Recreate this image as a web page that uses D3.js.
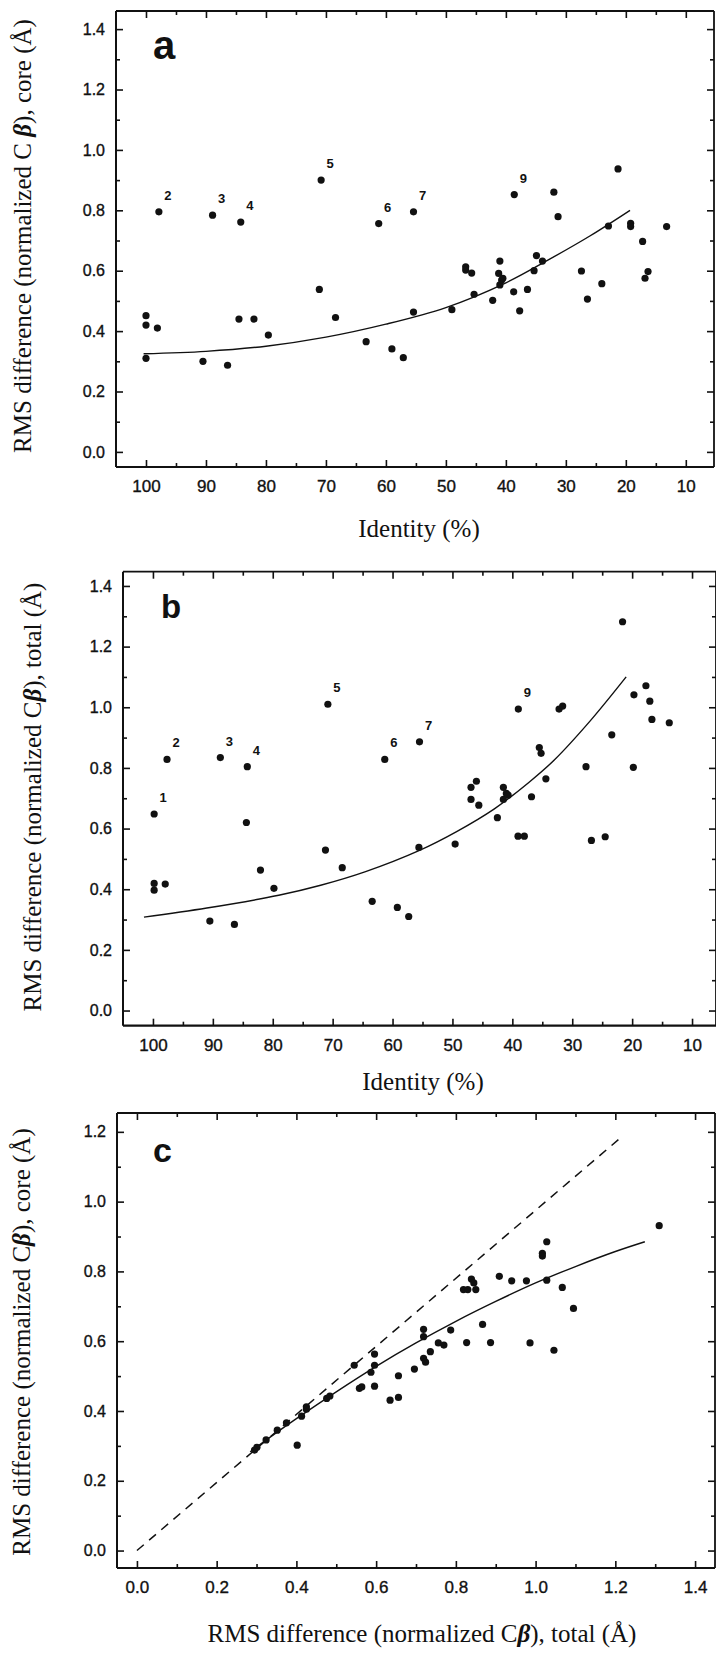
<!DOCTYPE html>
<html><head><meta charset="utf-8">
<script src="https://cdn.jsdelivr.net/npm/d3@7"></script>
<style>
body{margin:0;background:#fff;}
svg{display:block;background:#fff;}
</style></head><body>
<script>
// ---------- Panel a : identity vs core RMS ----------
const identityA = [100,100,100,98.1,97.85,90.5,88.9,86.4,84.5,84.2,82.0,79.6,71.1,70.8,68.4,63.3,61.2,59.0,57.1,55.4,55.4,49.0,46.7,46.7,45.7,45.3,42.2,41.0,41.2,41.0,40.7,40.5,38.7,38.6,37.7,36.4,35.3,34.9,33.9,32.0,31.3,27.4,26.4,24.0,22.9,21.3,19.2,19.2,17.2,16.8,16.3,13.2];
const coreA = [0.451,0.42,0.31,0.41,0.795,0.30,0.784,0.287,0.44,0.761,0.44,0.387,0.538,0.90,0.445,0.365,0.756,0.341,0.312,0.463,0.795,0.471,0.613,0.602,0.592,0.522,0.502,0.632,0.591,0.553,0.569,0.575,0.53,0.852,0.467,0.538,0.60,0.65,0.632,0.86,0.779,0.599,0.506,0.557,0.748,0.937,0.757,0.746,0.697,0.575,0.597,0.746];
const labelTextA = ["2","3","4","5","6","7","9"];
const labelIdA = [97.85,88.9,84.2,70.8,61.2,55.4,38.6];
const labelValA = [0.795,0.784,0.761,0.90,0.756,0.795,0.852];
const fitIdA = [100.4,90,80,70,60,50,40,33,26,19.3];
const fitValA = [0.325,0.333,0.35,0.38,0.423,0.478,0.56,0.635,0.715,0.80];

// ---------- Panel b : identity vs total RMS ----------
const identityB = [97.65,88.75,84.25,70.8,61.3,55.5,39.0,35.5,35.2,32.2,31.6,23.4,21.6,19.7,17.7,17.05,16.7,13.8,27.7,19.8,99.8,99.8,99.8,97.95,90.5,86.4,84.4,82.05,79.8,71.2,68.4,63.4,59.2,57.3,55.6,49.55,46.9,46.0,46.9,45.6,42.5,41.5,41.5,41.0,40.7,39.05,38.0,36.8,34.4,26.8,24.5];
const totalB = [0.828,0.834,0.804,1.01,0.828,0.886,0.994,0.867,0.848,0.994,1.004,0.909,1.282,1.041,1.071,1.02,0.96,0.949,0.804,0.802,0.648,0.419,0.397,0.417,0.295,0.284,0.62,0.463,0.403,0.529,0.471,0.36,0.34,0.31,0.538,0.549,0.736,0.756,0.696,0.677,0.636,0.736,0.696,0.716,0.71,0.575,0.575,0.705,0.764,0.561,0.573];
const labelTextB = ["1","2","3","4","5","6","7","9"];
const labelIdB = [99.8,97.65,88.75,84.25,70.8,61.3,55.5,39.0];
const labelValB = [0.648,0.828,0.834,0.804,1.01,0.828,0.886,0.994];
const fitIdB = [101.5,91,79,72,64.5,55.5,49.3,43,37.2,33,27,21];
const fitValB = [0.308,0.338,0.38,0.413,0.458,0.528,0.59,0.665,0.753,0.826,0.955,1.10];

// ---------- Panel c : total vs core RMS ----------
const totalC = [1.310,1.028,1.017,1.017,1.028,1.067,1.095,0.977,0.94,0.909,0.819,0.83,0.839,0.845,0.85,0.867,0.887,0.986,1.046,0.827,0.787,0.77,0.756,0.736,0.719,0.719,0.719,0.596,0.545,0.596,0.587,0.558,0.564,0.596,0.656,0.635,0.656,0.696,0.724,0.476,0.484,0.425,0.425,0.413,0.402,0.375,0.352,0.324,0.301,0.295];
const coreC = [0.931,0.885,0.852,0.844,0.775,0.754,0.694,0.773,0.773,0.786,0.748,0.748,0.778,0.767,0.748,0.648,0.596,0.595,0.574,0.596,0.632,0.589,0.595,0.57,0.634,0.613,0.551,0.563,0.531,0.531,0.511,0.465,0.469,0.471,0.501,0.431,0.439,0.52,0.54,0.436,0.443,0.412,0.405,0.385,0.302,0.366,0.345,0.317,0.296,0.288];
const fitTotalC = [0.284,0.35,0.4,0.5,0.6,0.7,0.8,0.9,1.0,1.1,1.2,1.274];
const fitCoreC = [0.283,0.338,0.378,0.455,0.528,0.595,0.657,0.714,0.767,0.814,0.857,0.885];
const diagTotalC = [0,1.21];
const diagCoreC = [0,1.18];

// ---------- ticks ----------
const identityTicks = [100,90,80,70,60,50,40,30,20,10];
const identityMinor = [95,85,75,65,55,45,35,25,15];
const rmsTicks14 = [0,0.2,0.4,0.6,0.8,1.0,1.2,1.4];
const rmsMinor14 = [0.1,0.3,0.5,0.7,0.9,1.1,1.3];
const rmsTicks12 = [0,0.2,0.4,0.6,0.8,1.0,1.2];
const rmsMinor12 = [0.1,0.3,0.5,0.7,0.9,1.1];
const totalTicksC = [0,0.2,0.4,0.6,0.8,1.0,1.2,1.4];
const totalMinorC = [0.1,0.3,0.5,0.7,0.9,1.1,1.3];

const W = 716, H = 1655;
const INK = "#111";
const SANS = "'Liberation Sans', Arial, Helvetica, sans-serif";
const SERIF = "'Liberation Serif', 'Times New Roman', serif";

const svg = d3.select("body").append("svg").attr("width", W).attr("height", H);
svg.append("rect").attr("width", W).attr("height", H).attr("fill", "#fff");

const f1 = d3.format(".1f");

function noDomain(s){ s.select(".domain").remove(); }
function styleAxis(s, size){
  s.attr("font-family", SANS).attr("font-size", size);
  s.selectAll(".tick line").attr("stroke", INK).attr("stroke-width", 1.6);
  s.selectAll(".tick text").attr("fill", INK).attr("stroke", INK).attr("stroke-width", 0.35);
}

function panel(cfg){
  const g = svg.append("g");
  const x = d3.scaleLinear().domain(cfg.xDomain).range(cfg.xRange);
  const y = d3.scaleLinear().domain(cfg.yDomain).range(cfg.yRange);
  const [x0, x1] = cfg.xRange, [yb, yt] = cfg.yRange;

  g.append("g").attr("transform", `translate(0,${yb})`)
    .call(d3.axisBottom(x).tickValues(cfg.xTicks).tickSize(-7).tickPadding(13).tickFormat(cfg.xFmt))
    .call(noDomain).call(s => styleAxis(s, 17));
  g.append("g").attr("transform", `translate(0,${yb})`)
    .call(d3.axisBottom(x).tickValues(cfg.xMinor).tickSize(-4).tickFormat(""))
    .call(noDomain).call(s => styleAxis(s, 17));
  g.append("g").attr("transform", `translate(0,${yt})`)
    .call(d3.axisTop(x).tickValues(cfg.xTicks).tickSize(-7).tickFormat(""))
    .call(noDomain).call(s => styleAxis(s, 17));
  g.append("g").attr("transform", `translate(0,${yt})`)
    .call(d3.axisTop(x).tickValues(cfg.xMinor).tickSize(-4).tickFormat(""))
    .call(noDomain).call(s => styleAxis(s, 17));
  g.append("g").attr("transform", `translate(${x0},0)`)
    .call(d3.axisLeft(y).tickValues(cfg.yTicks).tickSize(-7).tickPadding(11).tickFormat(f1))
    .call(noDomain).call(s => styleAxis(s, 16));
  g.append("g").attr("transform", `translate(${x0},0)`)
    .call(d3.axisLeft(y).tickValues(cfg.yMinor).tickSize(-4).tickFormat(""))
    .call(noDomain).call(s => styleAxis(s, 16));
  g.append("g").attr("transform", `translate(${x1},0)`)
    .call(d3.axisRight(y).tickValues(cfg.yTicks).tickSize(-7).tickFormat(""))
    .call(noDomain).call(s => styleAxis(s, 16));
  g.append("g").attr("transform", `translate(${x1},0)`)
    .call(d3.axisRight(y).tickValues(cfg.yMinor).tickSize(-4).tickFormat(""))
    .call(noDomain).call(s => styleAxis(s, 16));

  g.append("line").attr("x1", x0).attr("x2", x1).attr("y1", yb).attr("y2", yb).attr("stroke", INK).attr("stroke-width", 2.2);
  g.append("line").attr("x1", x0).attr("x2", x0).attr("y1", yt).attr("y2", yb).attr("stroke", INK).attr("stroke-width", 2);
  g.append("line").attr("x1", x0).attr("x2", x1).attr("y1", yt).attr("y2", yt).attr("stroke", INK).attr("stroke-width", 1.8);
  g.append("line").attr("x1", x1).attr("x2", x1).attr("y1", yt).attr("y2", yb).attr("stroke", INK).attr("stroke-width", 1.8);

  if (cfg.diag){
    const pts = d3.zip(cfg.diag[0], cfg.diag[1]);
    g.append("path").attr("d", d3.line().x(d => x(d[0])).y(d => y(d[1]))(pts))
      .attr("fill", "none").attr("stroke", INK).attr("stroke-width", 1.5).attr("stroke-dasharray", "9,7");
  }
  const fit = d3.zip(cfg.fit[0], cfg.fit[1]);
  g.append("path").attr("d", d3.line().curve(d3.curveCatmullRom.alpha(0.5)).x(d => x(d[0])).y(d => y(d[1]))(fit))
    .attr("fill", "none").attr("stroke", INK).attr("stroke-width", 1.4);

  g.append("g").selectAll("circle").data(d3.zip(cfg.px, cfg.py)).join("circle")
    .attr("cx", d => x(d[0])).attr("cy", d => y(d[1])).attr("r", 3.6).attr("fill", INK);

  if (cfg.labels){
    const L = d3.zip(cfg.labels[0], cfg.labels[1], cfg.labels[2]);
    g.append("g").selectAll("text").data(L).join("text")
      .attr("x", d => x(d[1]) + 9).attr("y", d => y(d[2]) - 12)
      .attr("text-anchor", "middle").attr("font-family", SANS).attr("font-weight", "bold")
      .attr("font-size", 13).attr("fill", INK).text(d => d[0]);
  }

  g.append("text").attr("x", cfg.letter[1]).attr("y", cfg.letter[2])
    .attr("font-family", SANS).attr("font-weight", "bold").attr("font-size", cfg.letter[3])
    .attr("fill", INK).text(cfg.letter[0]);

  const yt_ = g.append("text").attr("transform", `translate(${cfg.yTitlePos[0]},${cfg.yTitlePos[1]}) rotate(-90)`)
    .attr("text-anchor", "middle").attr("font-family", SERIF).attr("font-size", 25).attr("fill", INK);
  yt_.append("tspan").text(cfg.yTitle[0]);
  yt_.append("tspan").attr("font-weight", "bold").attr("font-style", "italic").text("β");
  yt_.append("tspan").text(cfg.yTitle[1]);

  const xt_ = g.append("text").attr("x", cfg.xTitlePos[0]).attr("y", cfg.xTitlePos[1])
    .attr("text-anchor", "middle").attr("font-family", SERIF).attr("font-size", 25).attr("fill", INK);
  xt_.append("tspan").text(cfg.xTitle[0]);
  if (cfg.xTitle.length > 1){
    xt_.append("tspan").attr("font-weight", "bold").attr("font-style", "italic").text("β");
    xt_.append("tspan").text(cfg.xTitle[1]);
  }
}

const idFmt = d3.format("d");

panel({
  xDomain: [105, 5.3], xRange: [116, 714],
  yDomain: [-0.05, 1.46], yRange: [467, 11],
  xTicks: identityTicks, xMinor: identityMinor, xFmt: idFmt,
  yTicks: rmsTicks14, yMinor: rmsMinor14,
  px: identityA, py: coreA,
  labels: [labelTextA, labelIdA, labelValA],
  fit: [fitIdA, fitValA],
  letter: ["a", 153, 59, 40],
  yTitle: ["RMS difference (normalized C ", "), core (Å)"], yTitlePos: [31, 236],
  xTitle: ["Identity (%)"], xTitlePos: [419, 537]
});

panel({
  xDomain: [105, 6], xRange: [123, 716],
  yDomain: [-0.05, 1.447], yRange: [1025.7, 571.7],
  xTicks: identityTicks, xMinor: identityMinor, xFmt: idFmt,
  yTicks: rmsTicks14, yMinor: rmsMinor14,
  px: identityB, py: totalB,
  labels: [labelTextB, labelIdB, labelValB],
  fit: [fitIdB, fitValB],
  letter: ["b", 161, 618, 33],
  yTitle: ["RMS difference (normalized C", "), total (Å)"], yTitlePos: [41, 797],
  xTitle: ["Identity (%)"], xTitlePos: [423, 1090]
});

panel({
  xDomain: [-0.05, 1.45], xRange: [117, 715],
  yDomain: [-0.05, 1.254], yRange: [1568, 1113],
  xTicks: totalTicksC, xMinor: totalMinorC, xFmt: f1,
  yTicks: rmsTicks12, yMinor: rmsMinor12,
  px: totalC, py: coreC,
  labels: null,
  fit: [fitTotalC, fitCoreC],
  diag: [diagTotalC, diagCoreC],
  letter: ["c", 153, 1162, 34],
  yTitle: ["RMS difference (normalized C", "), core (Å)"], yTitlePos: [30, 1342],
  xTitle: ["RMS difference (normalized C", "), total (Å)"], xTitlePos: [422, 1642]
});
</script>
</body></html>
